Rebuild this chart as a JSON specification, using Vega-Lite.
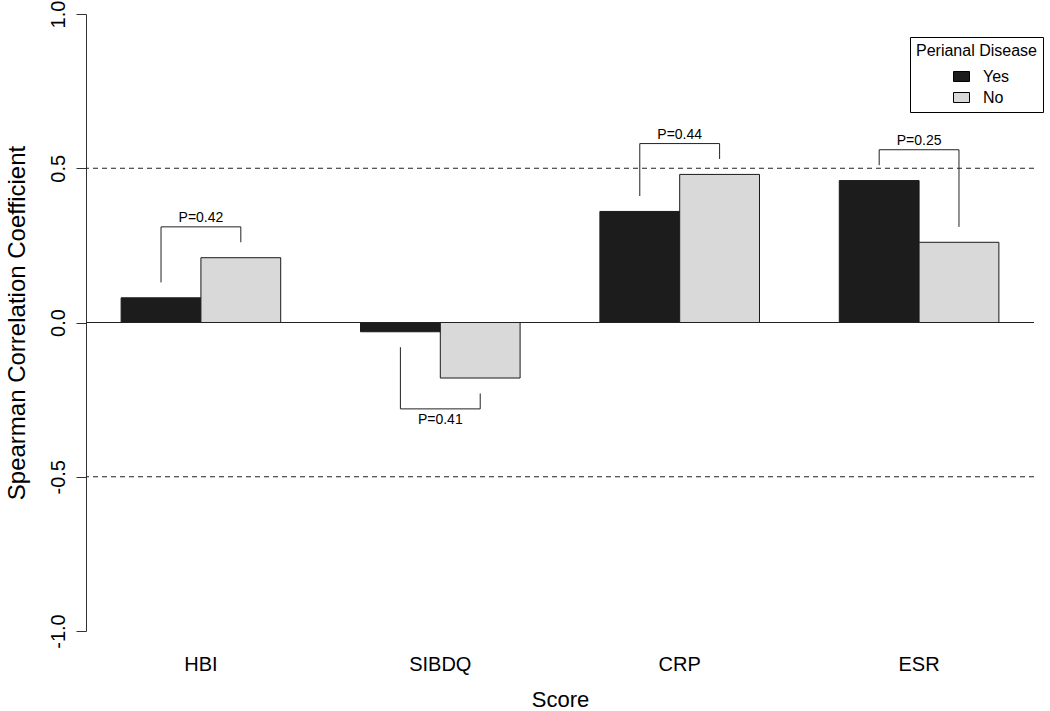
{
  "$schema": "https://vega.github.io/schema/vega-lite/v6.json",
  "width": 948,
  "height": 617,
  "autosize": "none",
  "padding": {"left": 86, "top": 14, "right": 16, "bottom": 80},
  "background": "white",
  "config": {"font": "Liberation Sans", "view": {"stroke": null}},
  "datasets": {
    "bars": [
      {"score": "HBI", "group": "Yes", "value": 0.08},
      {"score": "HBI", "group": "No", "value": 0.21},
      {"score": "SIBDQ", "group": "Yes", "value": -0.03},
      {"score": "SIBDQ", "group": "No", "value": -0.18},
      {"score": "CRP", "group": "Yes", "value": 0.36},
      {"score": "CRP", "group": "No", "value": 0.48},
      {"score": "ESR", "group": "Yes", "value": 0.46},
      {"score": "ESR", "group": "No", "value": 0.26}
    ],
    "brackets": [
      {"score": "HBI", "group": "Yes", "end": 0.13, "top": 0.31},
      {"score": "HBI", "group": "No", "end": 0.26, "top": 0.31},
      {"score": "SIBDQ", "group": "Yes", "end": -0.08, "top": -0.28},
      {"score": "SIBDQ", "group": "No", "end": -0.23, "top": -0.28},
      {"score": "CRP", "group": "Yes", "end": 0.41, "top": 0.58},
      {"score": "CRP", "group": "No", "end": 0.53, "top": 0.58},
      {"score": "ESR", "group": "Yes", "end": 0.51, "top": 0.56},
      {"score": "ESR", "group": "No", "end": 0.31, "top": 0.56}
    ],
    "pvals": [
      {"score": "HBI", "top": 0.31, "label": "P=0.42"},
      {"score": "SIBDQ", "top": -0.28, "label": "P=0.41"},
      {"score": "CRP", "top": 0.58, "label": "P=0.44"},
      {"score": "ESR", "top": 0.56, "label": "P=0.25"}
    ],
    "refs": [
      {"y": 0.5, "kind": "dash"},
      {"y": -0.5, "kind": "dash"},
      {"y": 0, "kind": "solid"}
    ]
  },
  "encoding": {
    "x": {
      "field": "score",
      "type": "nominal",
      "sort": ["HBI", "SIBDQ", "CRP", "ESR"],
      "scale": {"domain": ["HBI", "SIBDQ", "CRP", "ESR"], "paddingInner": 0.3333, "paddingOuter": 0.1467},
      "axis": {
        "title": "Score",
        "domain": false,
        "ticks": false,
        "tickSize": 0,
        "labelAngle": 0,
        "labelFontSize": 20,
        "labelPadding": 23,
        "labelColor": "black",
        "titleFontSize": 22,
        "titleFontWeight": "normal",
        "titleColor": "black",
        "titleBaseline": "alphabetic",
        "titleY": 75
      }
    }
  },
  "layer": [
    {
      "data": {"name": "bars"},
      "mark": {"type": "bar", "stroke": "#1a1a1a", "strokeWidth": 1},
      "encoding": {
        "xOffset": {"field": "group", "type": "nominal", "scale": {"domain": ["Yes", "No"], "paddingInner": 0, "paddingOuter": 0}},
        "y": {
          "field": "value",
          "type": "quantitative",
          "scale": {"domain": [-1, 1], "nice": false, "zero": false},
          "axis": {
            "title": "Spearman Correlation Coefficient",
            "values": [-1, -0.5, 0, 0.5, 1],
            "labelExpr": "replace(format(datum.value, '.1f'), '\u2212', '-')",
            "labelAngle": -90,
            "labelAlign": "center",
            "labelBaseline": "alphabetic",
            "labelFontSize": 20,
            "labelColor": "black",
            "tickSize": 10,
            "labelPadding": 12,
            "grid": false,
            "domainColor": "#333",
            "tickColor": "#333",
            "titleFontSize": 24,
            "titleFontWeight": "normal",
            "titleColor": "black",
            "titleX": -62,
            "titleY": 308.5,
            "titleAngle": -90,
            "titleBaseline": "alphabetic",
            "titleAlign": "center"
          }
        },
        "color": {
          "field": "group",
          "type": "nominal",
          "scale": {"domain": ["Yes", "No"], "range": ["#1c1c1c", "#d9d9d9"]},
          "legend": {
            "title": "Perianal Disease",
            "orient": "none",
            "legendX": 824,
            "legendY": 23,
            "direction": "vertical",
            "strokeColor": "black",
            "padding": 6,
            "titleFontSize": 16,
            "titleFontWeight": "normal",
            "titleColor": "black",
            "titlePadding": 9,
            "labelFontSize": 16,
            "labelColor": "black",
            "symbolType": "M-1,-0.625H1V0.625H-1Z",
            "symbolSize": 256,
            "symbolStrokeColor": "black",
            "symbolStrokeWidth": 1,
            "symbolOffset": 37,
            "labelOffset": 13,
            "rowPadding": 4
          }
        }
      }
    },
    {
      "data": {"name": "refs"},
      "transform": [{"filter": "datum.kind == 'dash'"}],
      "mark": {"type": "rule", "color": "#222", "strokeWidth": 1, "strokeDash": [5, 4]},
      "encoding": {"y": {"field": "y", "type": "quantitative"}, "x": null}
    },
    {
      "data": {"name": "refs"},
      "transform": [{"filter": "datum.kind == 'solid'"}],
      "mark": {"type": "rule", "color": "#222", "strokeWidth": 1},
      "encoding": {"y": {"field": "y", "type": "quantitative"}, "x": null}
    },
    {
      "data": {"name": "brackets"},
      "mark": {"type": "rule", "color": "#222", "strokeWidth": 1},
      "encoding": {
        "xOffset": {"field": "group", "type": "nominal", "scale": {"domain": ["Yes", "No"], "paddingInner": 0, "paddingOuter": 0}},
        "y": {"field": "end", "type": "quantitative"},
        "y2": {"field": "top"}
      }
    },
    {
      "data": {"name": "pvals"},
      "mark": {"type": "rule", "color": "#222", "strokeWidth": 1},
      "encoding": {
        "x": {"field": "score", "type": "nominal", "bandPosition": 0.25},
        "x2": {"field": "score", "bandPosition": 0.75},
        "y": {"field": "top", "type": "quantitative"}
      }
    },
    {
      "data": {"name": "pvals"},
      "transform": [{"filter": "datum.top > 0"}],
      "mark": {"type": "text", "fontSize": 14, "baseline": "alphabetic", "dy": -4.5, "color": "black"},
      "encoding": {
        "y": {"field": "top", "type": "quantitative"},
        "text": {"field": "label"}
      }
    },
    {
      "data": {"name": "pvals"},
      "transform": [{"filter": "datum.top < 0"}],
      "mark": {"type": "text", "fontSize": 14, "baseline": "top", "dy": 4, "color": "black"},
      "encoding": {
        "y": {"field": "top", "type": "quantitative"},
        "text": {"field": "label"}
      }
    }
  ]
}
